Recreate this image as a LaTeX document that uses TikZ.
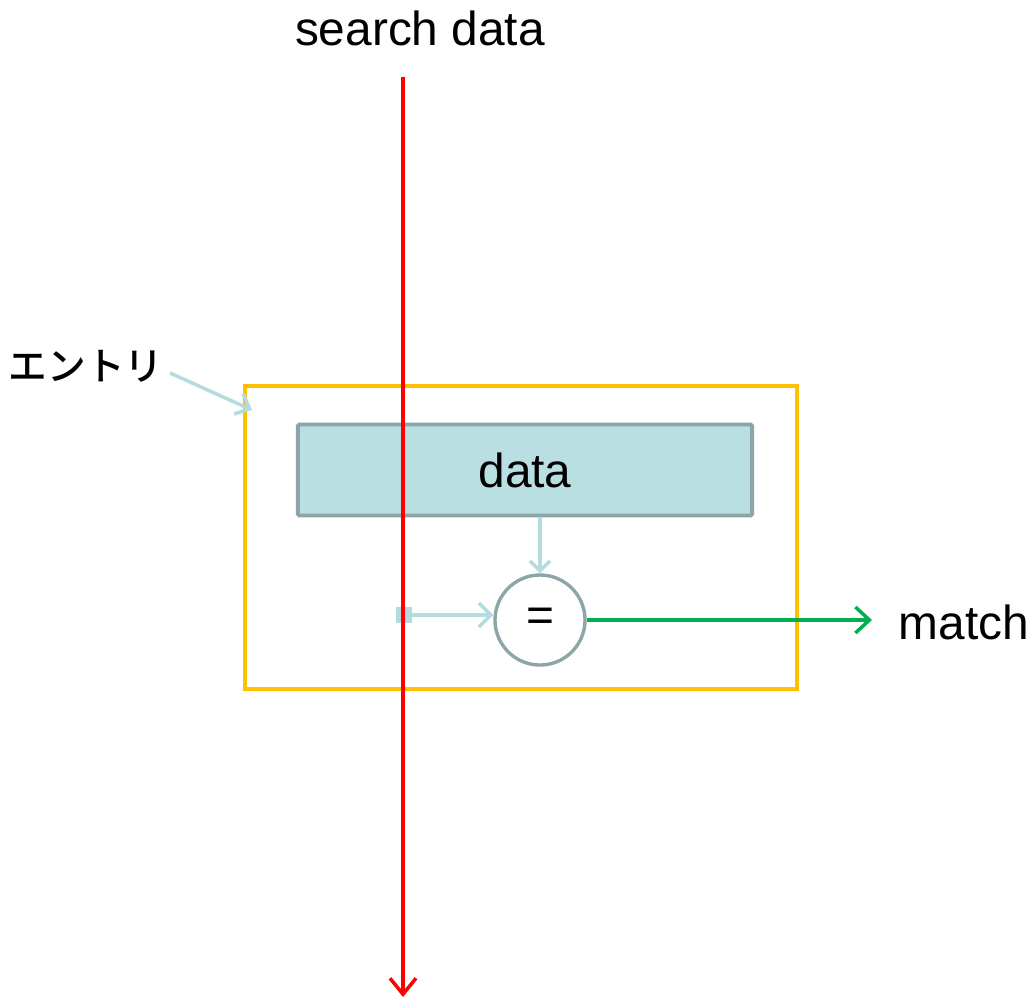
\documentclass[tikz,border=0pt]{standalone}
\usepackage{fontspec}
\setmainfont{Liberation Sans}
\newfontfamily\jpfont{Noto Sans CJK JP Medium}
\usetikzlibrary{arrows.meta}

\definecolor{entryorange}{HTML}{FFC000}
\definecolor{cellfill}{HTML}{B9DFE2}
\definecolor{cellline}{HTML}{8CA5A6}
\definecolor{wirecyan}{HTML}{B4DCE0}
\definecolor{matchgreen}{HTML}{00B050}

\begin{document}
\begin{tikzpicture}[x=0.025cm,y=-0.025cm]
\tikzset{every node/.style={font=\fontsize{34}{40}\selectfont}}
\tikzset{cell/.style={draw=cellline,fill=cellfill,line width=2.8pt,rounded corners=1pt,
  minimum width=11.35cm,minimum height=2.275cm}}
\tikzset{comparator/.style={circle,draw=cellline,fill=white,line width=2.4pt,minimum size=2.25cm,inner sep=0pt}}
\tikzset{wire/.style={wirecyan,line width=2.5pt,-{Straight Barb[length=3mm,width=5.5mm]}}}

\useasboundingbox (0,0) rectangle (1036,999);

% entry frame
\node[draw=entryorange,line width=2.8pt,minimum width=13.8cm,minimum height=7.575cm] (entry) at (521,537.5) {};
\node (entrylabel) at (86,366) {\jpfont\fontsize{27.5}{30}\selectfont エントリ};
\coordinate (entrytip) at (252,410);
\draw[wire] (170,373) -- (entrytip);

% stored data and comparator
\node[cell] (cell) at (525,470) {data};
\node[comparator] (eq) at (540,620) {=};
\coordinate (keyin) at (396,615);

\draw[wire,-{Straight Barb[length=2.5mm,width=5mm]}] (cell.south -| eq.north) -- (eq.north);
\draw[wire,{Square[length=4mm,width=4mm]}-{Straight Barb[length=3mm,width=6mm]}] (keyin) -- (keyin -| eq.west);

% match output
\node (match) at (964,622) {match};
\coordinate (matchtip) at (872,620);
\draw[matchgreen,line width=2.5pt,-{Straight Barb[length=3.5mm,width=6.5mm]}] (eq.east) -- (matchtip);

% search data bus
\node (search) at (420,28) {search data};
\coordinate (busend) at (403,997);
\draw[red,line width=2.5pt,-{Straight Barb[length=4mm,width=6.5mm]}] (403,77) -- (busend);
\end{tikzpicture}
\end{document}
